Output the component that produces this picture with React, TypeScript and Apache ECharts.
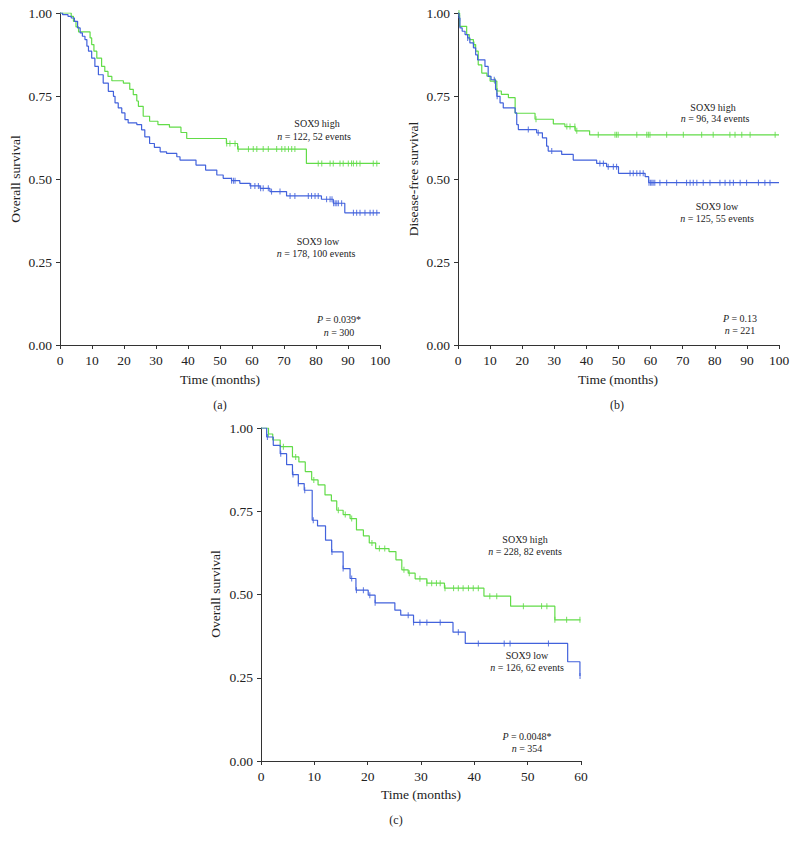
import React, { useEffect, useRef } from "react";
import * as echarts from "echarts";

// ---------- Panel (a): overall survival, 100 months ----------
const aHighT = [0, 3.5, 4.2, 5.0, 5.8, 9.4, 9.9, 10.6, 11.5, 13.0, 14.0, 15.0, 16.2, 19.8, 21.8, 22.9, 24.0, 24.5, 26.0, 28.0, 30.6, 34.2, 37.8, 39.6, 52.0, 55.5, 77.0, 100];
const aHighS = [1.0, 0.99, 0.975, 0.958, 0.943, 0.925, 0.905, 0.885, 0.864, 0.839, 0.824, 0.809, 0.796, 0.789, 0.77, 0.754, 0.735, 0.719, 0.689, 0.674, 0.664, 0.656, 0.64, 0.622, 0.607, 0.59, 0.547, 0.547];
const aHighCens = [52.1, 53.1, 54.7, 55.7, 58.9, 60.4, 61.5, 63.5, 65.1, 67.7, 69.3, 70.3, 71.4, 72.4, 73.4, 80.7, 81.8, 84.4, 85.4, 87.5, 88.5, 90.1, 91.1, 91.7, 92.7, 93.75, 97.9, 99];

const aLowT = [0, 0.8, 2.5, 3.5, 4.5, 5.5, 6.3, 7.0, 7.8, 8.4, 8.9, 9.9, 10.9, 12.0, 13.5, 15.1, 16.7, 17.2, 18.2, 19.3, 20.3, 21.3, 24.0, 25.5, 26.5, 28.0, 29.5, 31.3, 33.3, 36.5, 37.5, 42.5, 45.5, 49.0, 51.0, 53.6, 56.2, 59.4, 62.5, 65.6, 70.8, 81.7, 85.4, 89.0, 100];
const aLowS = [1.0, 0.995, 0.99, 0.985, 0.975, 0.955, 0.94, 0.93, 0.92, 0.9, 0.885, 0.864, 0.839, 0.814, 0.789, 0.764, 0.749, 0.729, 0.714, 0.699, 0.679, 0.669, 0.664, 0.648, 0.627, 0.607, 0.595, 0.582, 0.577, 0.567, 0.557, 0.542, 0.527, 0.512, 0.502, 0.495, 0.487, 0.479, 0.472, 0.462, 0.449, 0.439, 0.427, 0.398, 0.398];
const aLowCens = [53.6, 54.2, 54.7, 59.6, 60.9, 62.0, 62.7, 63.5, 65.1, 66.1, 68.75, 71.9, 73.4, 77.6, 78.6, 79.7, 80.7, 83.3, 84.4, 85.0, 85.5, 86.0, 86.5, 87.0, 88.0, 91.7, 92.7, 93.75, 95.3, 96.9, 97.9, 99];

// ---------- Panel (b): disease-free survival, 100 months ----------
const bHighT = [0, 0.5, 2.7, 3.5, 4.8, 5.5, 6.3, 7.4, 9.0, 10.0, 12.1, 13.5, 15.7, 17.8, 24.0, 29.7, 33.3, 36.5, 41.0, 100];
const bHighS = [1.0, 0.96, 0.935, 0.92, 0.905, 0.885, 0.844, 0.819, 0.81, 0.795, 0.765, 0.755, 0.745, 0.698, 0.68, 0.666, 0.658, 0.645, 0.633, 0.633];
const bHighCens = [0.3, 5.0, 11.5, 12.2, 24.3, 33.9, 34.9, 36.4, 37.0, 43.7, 48.9, 49.4, 49.9, 55.7, 58.8, 59.3, 59.8, 65.0, 70.2, 75.9, 79.5, 84.7, 86.3, 88.4, 91.0, 98.8];

const bLowT = [0, 0.3, 0.6, 1.3, 2.2, 3.0, 3.7, 4.8, 5.5, 6.1, 8.4, 9.4, 10.3, 11.7, 12.1, 13.1, 14.1, 17.8, 18.3, 18.8, 24.5, 26.3, 27.6, 28.1, 32.3, 35.9, 43.2, 46.3, 50.0, 58.3, 59.4, 100];
const bLowS = [1.0, 0.985, 0.955, 0.945, 0.935, 0.925, 0.91, 0.895, 0.874, 0.859, 0.839, 0.809, 0.799, 0.769, 0.749, 0.729, 0.714, 0.699, 0.664, 0.649, 0.639, 0.624, 0.599, 0.584, 0.574, 0.557, 0.547, 0.537, 0.517, 0.507, 0.489, 0.489];
const bLowCens = [0.5, 3.0, 11.3, 12.2, 21.9, 25.0, 29.2, 44.2, 45.3, 46.8, 48.4, 49.4, 53.6, 54.6, 55.7, 56.7, 57.7, 59.5, 60.0, 60.4, 60.8, 61.3, 62.9, 65.0, 68.1, 71.2, 72.3, 73.3, 74.4, 76.4, 78.5, 81.6, 83.2, 84.7, 85.8, 87.9, 89.9, 93.6, 95.6, 97.2];

// ---------- Panel (c): overall survival, 60 months ----------
const cHighT = [0, 1.4, 2.2, 3.6, 5.9, 7.1, 8.3, 9.5, 10.7, 12.0, 13.2, 14.2, 15.4, 16.7, 17.9, 19.2, 20.3, 21.5, 24.0, 25.3, 26.4, 27.6, 28.9, 31.1, 34.4, 41.8, 46.8, 55.1, 59.9];
const cHighS = [1.0, 0.982, 0.964, 0.944, 0.913, 0.898, 0.869, 0.844, 0.829, 0.799, 0.781, 0.753, 0.74, 0.728, 0.694, 0.676, 0.655, 0.638, 0.629, 0.604, 0.574, 0.564, 0.547, 0.534, 0.519, 0.495, 0.465, 0.424, 0.424];
const cHighCens = [1.4, 4.2, 6.5, 9.9, 14.5, 15.8, 17.0, 20.8, 22.2, 23.2, 26.8, 27.8, 29.8, 31.1, 32.0, 32.9, 33.6, 34.5, 36.1, 37.0, 37.9, 38.9, 39.8, 40.75, 42.9, 44.2, 49.2, 52.6, 53.6, 55.1, 57.3, 59.8];

const cLowT = [0, 1.06, 2.3, 3.6, 4.8, 5.9, 7.0, 8.1, 9.6, 10.6, 12.1, 13.25, 15.4, 16.7, 17.8, 20.1, 21.4, 25.1, 26.2, 28.6, 36.0, 38.3, 57.5, 59.8, 59.85];
const cLowS = [1.0, 0.973, 0.948, 0.923, 0.89, 0.86, 0.833, 0.813, 0.723, 0.706, 0.663, 0.628, 0.578, 0.548, 0.513, 0.498, 0.475, 0.453, 0.438, 0.416, 0.387, 0.353, 0.298, 0.255, 0.255];
const cLowCens = [1.2, 3.7, 6.0, 7.0, 8.2, 9.8, 13.3, 15.4, 17.0, 17.9, 19.2, 20.4, 21.4, 27.6, 28.6, 29.8, 31.1, 33.6, 37.0, 40.75, 45.6, 46.7, 53.9, 59.82];

const yTicks = [0, 0.25, 0.5, 0.75, 1.0];

const GREEN = "#62dc48";
const BLUE = "#4262dc";
const FONT = "Liberation Serif";

function pairs(t: number[], s: number[]) {
  return t.map((v, i) => [v, s[i]]);
}
function lookup(t: number[], s: number[], x: number) {
  let v = s[0];
  for (let i = 0; i < t.length; i++) {
    if (t[i] <= x) v = s[i];
    else break;
  }
  return v;
}
function cens(t: number[], s: number[], c: number[]) {
  return c.map((x) => [x, lookup(t, s, x)]);
}

export default function App() {
  const ref = useRef<HTMLDivElement>(null);
  useEffect(() => {
    if (!ref.current) return;
    const chart = echarts.init(ref.current, undefined, { renderer: "svg" });

    const grids = [
      { left: 60, top: 13, width: 320, height: 332 },
      { left: 458, top: 13, width: 321, height: 332 },
      { left: 261, top: 428, width: 320, height: 333 },
    ];
    const axisCommon = {
      axisLine: { show: true, lineStyle: { color: "#333", width: 1 } },
      axisTick: { show: true, inside: false, length: 4, lineStyle: { color: "#333" } },
      splitLine: { show: false },
      axisLabel: { fontFamily: FONT, fontSize: 13.5, color: "#222", margin: 8 },
    };
    const xAxes = [
      { ...axisCommon, type: "value", gridIndex: 0, min: 0, max: 100, interval: 10 },
      { ...axisCommon, type: "value", gridIndex: 1, min: 0, max: 100, interval: 10 },
      { ...axisCommon, type: "value", gridIndex: 2, min: 0, max: 60, interval: 10 },
    ];
    const yAxes = [0, 1, 2].map((g) => ({
      ...axisCommon,
      type: "value",
      gridIndex: g,
      min: yTicks[0],
      max: yTicks[yTicks.length - 1],
      interval: 0.25,
      axisLabel: { ...axisCommon.axisLabel, formatter: (v: number) => v.toFixed(2) },
    }));

    const lineSeries = (g: number, t: number[], s: number[], color: string) => ({
      type: "line",
      xAxisIndex: g,
      yAxisIndex: g,
      step: "end",
      showSymbol: false,
      symbol: "none",
      data: pairs(t, s),
      lineStyle: { color, width: 1.2 },
      itemStyle: { color },
      silent: true,
    });
    const censSeries = (g: number, t: number[], s: number[], c: number[], color: string) => ({
      type: "scatter",
      xAxisIndex: g,
      yAxisIndex: g,
      symbol: "rect",
      symbolSize: [1.1, 6],
      data: cens(t, s, c),
      itemStyle: { color },
      silent: true,
    });

    const txt = (x: number, y: number, text: string, size = 10, extra: any = {}) => ({
      type: "text",
      x,
      y,
      ...extra,
      style: {
        text,
        fill: "#222",
        font: `${size}px "${FONT}"`,
        textAlign: "center",
        textVerticalAlign: "middle",
        rich: {
          i: { fontStyle: "italic", fontFamily: FONT, fontSize: size, fill: "#222" },
          n: { fontFamily: FONT, fontSize: size, fill: "#222" },
        },
      },
    });
    const yName = (x: number, y: number, text: string) =>
      txt(x, y, text, 13.5, { rotation: Math.PI / 2 });

    const graphic = [
      // panel a
      txt(317, 123, "SOX9 high"),
      txt(314, 136, "{i|n}{n| = 122, 52 events}"),
      txt(318, 241, "SOX9 low"),
      txt(316, 253, "{i|n}{n| = 178, 100 events}"),
      txt(339, 319, "{i|P}{n| = 0.039*}"),
      txt(339, 332, "{i|n}{n| = 300}"),
      txt(220, 379, "Time (months)", 13.5),
      yName(15, 179, "Overall survival"),
      txt(220, 405, "(a)", 12),
      // panel b
      txt(713, 107, "SOX9 high"),
      txt(715, 118, "{i|n}{n| = 96, 34 events}"),
      txt(717, 206, "SOX9 low"),
      txt(717, 218, "{i|n}{n| = 125, 55 events}"),
      txt(740, 318, "{i|P}{n| = 0.13}"),
      txt(740, 330, "{i|n}{n| = 221}"),
      txt(618, 379, "Time (months)", 13.5),
      yName(413, 179, "Disease-free survival"),
      txt(617, 405, "(b)", 12),
      // panel c
      txt(525, 539, "SOX9 high"),
      txt(525, 551, "{i|n}{n| = 228, 82 events}"),
      txt(527, 655, "SOX9 low"),
      txt(527, 667, "{i|n}{n| = 126, 62 events}"),
      txt(527, 736, "{i|P}{n| = 0.0048*}"),
      txt(527, 748, "{i|n}{n| = 354}"),
      txt(421, 794, "Time (months)", 13.5),
      yName(215, 594, "Overall survival"),
      txt(396, 820, "(c)", 12),
    ];

    chart.setOption({
      animation: false,
      backgroundColor: "#ffffff",
      grid: grids,
      xAxis: xAxes,
      yAxis: yAxes,
      series: [
        lineSeries(0, aHighT, aHighS, GREEN),
        lineSeries(0, aLowT, aLowS, BLUE),
        censSeries(0, aHighT, aHighS, aHighCens, GREEN),
        censSeries(0, aLowT, aLowS, aLowCens, BLUE),
        lineSeries(1, bHighT, bHighS, GREEN),
        lineSeries(1, bLowT, bLowS, BLUE),
        censSeries(1, bHighT, bHighS, bHighCens, GREEN),
        censSeries(1, bLowT, bLowS, bLowCens, BLUE),
        lineSeries(2, cHighT, cHighS, GREEN),
        lineSeries(2, cLowT, cLowS, BLUE),
        censSeries(2, cHighT, cHighS, cHighCens, GREEN),
        censSeries(2, cLowT, cLowS, cLowCens, BLUE),
      ],
      graphic,
    });
    return () => chart.dispose();
  }, []);
  return (
    <div
      ref={ref}
      style={{ position: "absolute", left: 0, top: 0, width: 796, height: 847 }}
    />
  );
}
